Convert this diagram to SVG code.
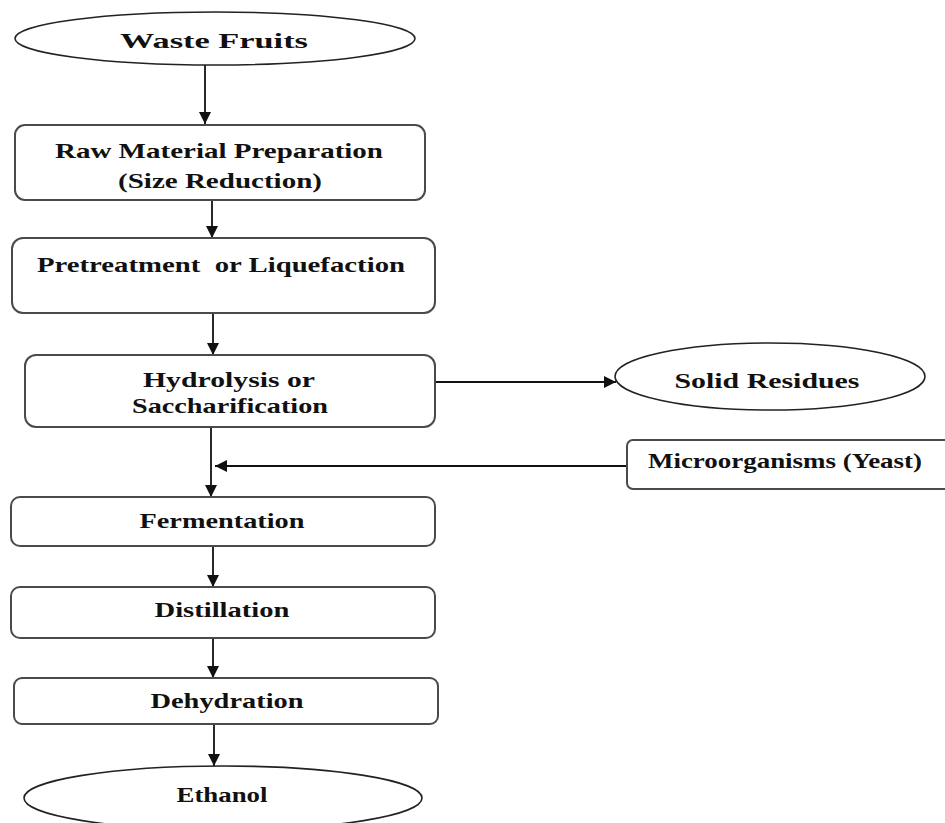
<svg xmlns="http://www.w3.org/2000/svg" width="945" height="823" viewBox="0 0 945 823">
<defs>
<marker id="ah" viewBox="0 0 10 10" refX="10" refY="5" markerWidth="12" markerHeight="12" markerUnits="userSpaceOnUse" orient="auto">
<path d="M0,0 L10,5 L0,10 z" fill="#111"/>
</marker>
<style>
.box{fill:#fff;stroke:#4a4a4a;stroke-width:2}
.ell{fill:#fff;stroke:#222;stroke-width:1.6}
.t{font-family:"Liberation Serif","Times New Roman",serif;font-weight:bold;font-size:22px;fill:#111;text-anchor:middle}
.c{stroke:#111;stroke-width:1.8;fill:none;marker-end:url(#ah)}
</style>
</defs>
<rect width="945" height="823" fill="#fff"/>
<g id="connectors">
<line class="c" x1="205" y1="65" x2="205" y2="124"/>
<line class="c" x1="212" y1="200" x2="212" y2="238"/>
<line class="c" x1="213" y1="313" x2="213" y2="355"/>
<line class="c" x1="211" y1="427" x2="211" y2="497"/>
<line class="c" x1="627" y1="466" x2="215" y2="466"/>
<line class="c" x1="435" y1="382" x2="616" y2="382"/>
<line class="c" x1="213" y1="547" x2="213" y2="587"/>
<line class="c" x1="213" y1="638" x2="213" y2="678"/>
<line class="c" x1="214" y1="724" x2="214" y2="766"/>
</g>
<g id="waste-fruits">
<ellipse class="ell" cx="215" cy="38.5" rx="200" ry="26.5"/>
<text class="t" x="214" y="48" font-size="23" textLength="188" lengthAdjust="spacingAndGlyphs">Waste Fruits</text>
</g>
<g id="raw-material">
<rect class="box" x="15" y="125" width="410" height="75" rx="10"/>
<text class="t" x="219" y="158" textLength="328" lengthAdjust="spacingAndGlyphs">Raw Material Preparation</text>
<text class="t" x="220" y="188" textLength="204" lengthAdjust="spacingAndGlyphs">(Size Reduction)</text>
</g>
<g id="pretreatment">
<rect class="box" x="12" y="238" width="423" height="75" rx="11"/>
<text class="t" x="221" y="272" textLength="368" lengthAdjust="spacingAndGlyphs" xml:space="preserve">Pretreatment  or Liquefaction</text>
</g>
<g id="hydrolysis">
<rect class="box" x="25" y="355" width="410" height="72" rx="11"/>
<text class="t" x="229" y="387" textLength="172" lengthAdjust="spacingAndGlyphs">Hydrolysis or</text>
<text class="t" x="230" y="413" textLength="196" lengthAdjust="spacingAndGlyphs">Saccharification</text>
</g>
<g id="solid-residues">
<ellipse class="ell" cx="770" cy="376.5" rx="155" ry="33.5"/>
<text class="t" x="767" y="388" textLength="185" lengthAdjust="spacingAndGlyphs">Solid Residues</text>
</g>
<g id="microorganisms">
<rect class="box" x="627" y="440" width="340" height="49" rx="6"/>
<text class="t" x="785" y="468" font-size="18" textLength="274" lengthAdjust="spacingAndGlyphs">Microorganisms (Yeast)</text>
</g>
<g id="fermentation">
<rect class="box" x="11" y="497" width="424" height="49" rx="9"/>
<text class="t" x="222" y="528" textLength="165" lengthAdjust="spacingAndGlyphs">Fermentation</text>
</g>
<g id="distillation">
<rect class="box" x="11" y="587" width="424" height="51" rx="9"/>
<text class="t" x="222" y="617" textLength="135" lengthAdjust="spacingAndGlyphs">Distillation</text>
</g>
<g id="dehydration">
<rect class="box" x="14" y="678" width="424" height="46" rx="8"/>
<text class="t" x="227" y="708" textLength="153" lengthAdjust="spacingAndGlyphs">Dehydration</text>
</g>
<g id="ethanol">
<ellipse class="ell" cx="223" cy="798" rx="199" ry="32"/>
<text class="t" x="222" y="802" textLength="91" lengthAdjust="spacingAndGlyphs">Ethanol</text>
</g>
</svg>
